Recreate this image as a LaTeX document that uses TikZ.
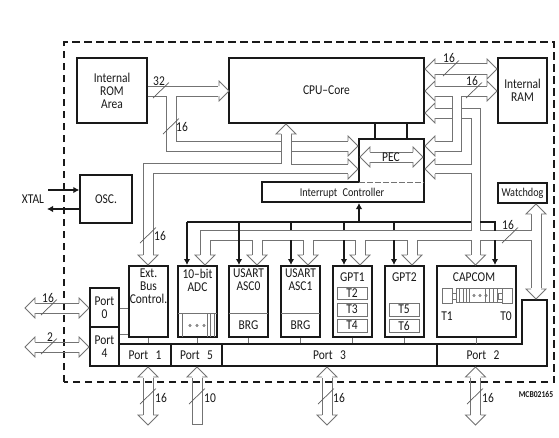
\documentclass[tikz,border=0pt]{standalone}
\usepackage{fontspec}
\setmainfont[FakeStretch=0.85]{Carlito}
\usetikzlibrary{arrows.meta}
\definecolor{bus}{gray}{0.45}
\definecolor{ink}{gray}{0.1}
\tikzset{
  boxthick/.style={draw=ink,line width=1.4pt,fill=none,inner sep=0pt,align=center,text=ink,font=\fontsize{13.5}{13}\selectfont},
  label/.style={inner sep=0pt,align=center,text=ink,font=\fontsize{13.5}{13}\selectfont},
  busline/.style={draw=bus,line width=0.8pt,line join=miter},
  busfill/.style={draw=bus,line width=0.8pt,fill=white,line join=miter},
  slash/.style={draw=bus!80!black,line width=0.7pt},
  ctrl/.style={draw=ink,line width=1.2pt,-{Latex[length=6pt,width=6.5pt]}},
  ctrlline/.style={draw=ink,line width=1.2pt},
  thinbox/.style={draw=bus,line width=0.8pt,inner sep=0pt,text=ink,font=\fontsize{13.5}{13}\selectfont},
  thinlink/.style={draw=bus,line width=0.8pt}
}
\newcommand{\bx}[6]{%
  \pgfmathsetmacro{\bxw}{#4-#2}\pgfmathsetmacro{\bxh}{#5-#3}%
  \pgfmathsetmacro{\bxx}{(#4+#2)/2}\pgfmathsetmacro{\bxy}{(#5+#3)/2}%
  \node[boxthick,minimum width=\bxw pt,minimum height=\bxh pt] (#1) at (\bxx,\bxy) {#6};}
\newcommand{\tb}[6]{%
  \pgfmathsetmacro{\bxw}{#4-#2}\pgfmathsetmacro{\bxh}{#5-#3}%
  \pgfmathsetmacro{\bxx}{(#4+#2)/2}\pgfmathsetmacro{\bxy}{(#5+#3)/2}%
  \node[thinbox,minimum width=\bxw pt,minimum height=\bxh pt] (#1) at (\bxx,\bxy) {#6};}
% open arrow heads: centre, tip
\newcommand{\hD}[2]{\draw[busfill] (#1-5,#2-10) -- (#1-10,#2-10) -- (#1,#2) -- (#1+10,#2-10) -- (#1+5,#2-10);}
\newcommand{\hU}[2]{\draw[busfill] (#1-5,#2+10) -- (#1-10,#2+10) -- (#1,#2) -- (#1+10,#2+10) -- (#1+5,#2+10);}
\newcommand{\hR}[2]{\draw[busfill] (#1-10,#2-5) -- (#1-10,#2-10) -- (#1,#2) -- (#1-10,#2+10) -- (#1-10,#2+5);}
\newcommand{\hL}[2]{\draw[busfill] (#1+10,#2-5) -- (#1+10,#2-10) -- (#1,#2) -- (#1+10,#2+10) -- (#1+10,#2+5);}
\newcommand{\wmark}[2]{\draw[slash] (#1,#2) -- ++(16,-15.5);}
\newcommand{\lb}[3]{\node[label] at (#1,#2) {#3};}
\begin{document}
\begin{tikzpicture}[x=1pt,y=-1pt]
\useasboundingbox (0,0) rectangle (559,437);
\fill[white] (0,0) rectangle (559,437);
% chip outline
\draw[ink,line width=1.5pt,dash pattern=on 7.5pt off 4.5pt] (64,382) -- (64,42) -- (554,42) -- (554,382) -- cycle;

% boxes
\bx{rom}{77}{58}{147}{123}{Internal\\ROM\\Area}
\bx{cpu}{229}{58}{424}{123}{CPU--Core}
\bx{ram}{498}{58}{547}{123}{Internal\\RAM}
\bx{osc}{80}{175}{132}{223}{OSC.}
\bx{wd}{498}{183}{547}{203}{\fontsize{12}{12}\selectfont Watchdog}
\bx{ext}{129}{266}{168}{337}{}
\bx{adc}{178}{266}{217}{337}{}
\bx{asc0}{229}{266}{268}{337}{}
\bx{asc1}{281}{266}{320}{337}{}
\bx{gpt1}{333}{266}{372}{337}{}
\bx{gpt2}{385}{266}{424}{337}{}
\bx{capcom}{437}{266}{516}{337}{}
\bx{p0}{90}{288}{119}{327}{Port\\0}
\bx{p4}{90}{327}{119}{366}{Port\\4}
\bx{p1}{119}{344}{171}{366}{Port\hspace{.35em} 1}
\bx{p5}{171}{344}{222}{366}{Port\hspace{.35em} 5}
\bx{p3}{222}{344}{437}{366}{Port\hspace{.35em} 3}
\draw[ink,line width=1.4pt] (437,344) -- (522,344) -- (522,300) -- (547,300) -- (547,366) -- (437,366) -- cycle;
\node[label] (p2) at (483,355) {Port\hspace{.35em} 2};

% box labels
\node[label,anchor=north] at (148.5,269) {Ext.\\Bus\\Control.};
\node[label,anchor=north] at (197.5,269) {10--bit\\ADC};
\node[label,anchor=north] at (248.5,269) {USART\\ASC0};
\node[label,anchor=north] at (300.5,269) {USART\\ASC1};
\lb{352.5}{277}{GPT1}
\lb{404.5}{277}{GPT2}
\lb{474}{277}{CAPCOM}
\lb{248.5}{325}{BRG}
\lb{300.5}{325}{BRG}

% PEC / interrupt controller
\coordinate (pecA) at (359,139);
\coordinate (pecB) at (424,139);
\coordinate (pecC) at (424,202);
\coordinate (pecD) at (262,202);
\coordinate (pecE) at (262,182);
\coordinate (pecF) at (359,182);
\draw[ink,line width=1.4pt] (pecA) -- (pecB) -- (pecC) -- (pecD) -- (pecE) -- (pecF) -- cycle;
\draw[bus,line width=.8pt,dash pattern=on 6pt off 2pt] (pecF) -- (424,182);
\node[label,font=\fontsize{12}{13}\selectfont] (irq) at (342,193) {Interrupt\hspace{.25em} Controller};
\draw[ink,line width=1.4pt] (375,123) -- (375,139);
\draw[ink,line width=1.4pt] (407,123) -- (407,139);
\draw[busline] (370,152) -- (413,152);
\draw[busline] (370,162) -- (413,162);
\hL{360}{157}
\hR{423}{157}
\node[label,fill=white,inner xsep=1pt,inner ysep=0pt] (pec) at (391,157) {PEC};

% inner sub-boxes
\draw[thinlink] (178,313) -- (217,313);
\foreach \q in {182,207,210,214} \draw[thinlink] (\q,313) -- (\q,337);
\foreach \q in {190,197,204} \draw[thinlink] (\q,325.5) circle (1.1);
\draw[thinlink] (229,313) -- (268,313);
\draw[thinlink] (281,313) -- (320,313);
\tb{t2}{337}{287}{367}{299}{T2}
\tb{t3}{337}{303}{367}{316}{T3}
\tb{t4}{337}{319}{367}{332}{T4}
\tb{t5}{389}{303}{419}{316}{T5}
\tb{t6}{389}{319}{419}{332}{T6}
% capcom inner
\draw[thinlink] (442,288) rectangle (452,303);
\draw[thinlink] (452,293) rectangle (456,299);
\draw[thinlink] (456,288) rectangle (502,302);
\draw[thinlink] (498,293) rectangle (502,299);
\draw[thinlink] (502,288) rectangle (512,303);
\foreach \q in {459,463,466,469,485,489,493,497} \draw[thinlink] (\q,288) -- (\q,302);
\foreach \q in {472,478,484} \draw[thinlink] (\q+2,295.5) circle (1.1);
\lb{447}{316}{T1}
\lb{506}{316}{T0}

% thin links to ports
\draw[thinlink] (p0.east |- 0,308) -- (ext.west |- 0,308);
\draw[thinlink] (p4.east |- 0,334) -- (ext.west |- 0,334);
\foreach \a/\b in {ext/p1,adc/p5} \draw[thinlink] (\a.south) -- (\a.south |- \b.north);
\foreach \a in {asc0,asc1,gpt1,gpt2} \draw[thinlink] (\a.south) -- (\a.south |- p3.north);
\draw[thinlink] (capcom.south) -- (capcom.south |- 0,344);

% XTAL
\node[label] (xtal) at (33,199) {XTAL};
\coordinate (xin) at (48,190);
\coordinate (xout) at (47,209);
\draw[ctrl] (xin) -- (xin -| osc.west);
\draw[ctrl] (xout -| osc.west) -- (xout);

% ROM buses
\draw[busline] (rom.east |- 0,86) -- (218,86);
\draw[busline] (rom.east |- 0,96) -- (166,96) -- (166,151) -- (281,151);
\draw[busline] (218,96) -- (176,96) -- (176,141) -- (281,141);
\hR{229}{91}
\draw[busline] (143,255) -- (143,163) -- (281,163) -- (281,134);
\draw[busline] (291,134) -- (291,164) -- (348,164);
\draw[busline] (153,255) -- (153,173) -- (348,173);
\draw[busline] (291,141) -- (348,141);
\draw[busline] (291,151) -- (348,151);
\hU{286}{124}
\hR{358}{146}
\hR{358}{169}
\hD{148}{265}

% RAM / right buses
\draw[busline] (435,63) -- (487,63);
\draw[busline] (435,74) -- (487,74);
\hL{425}{69}\hR{497}{69}
\draw[busline] (435,86) -- (487,86);
\draw[busline] (435,96) -- (452,96) -- (452,141) -- (435,141);
\draw[busline] (487,96) -- (461,96) -- (461,151) -- (435,151);
\hL{425}{91}\hR{497}{91}
\draw[busline] (435,108.5) -- (452,108.5);
\draw[busline] (435,118) -- (452,118);
\draw[busline] (461,108.5) -- (480,108.5) -- (480,230) -- (531,230) -- (531,214);
\draw[busline] (461,118) -- (471,118) -- (471,164) -- (435,164);
\draw[busline] (435,173.5) -- (471,173.5) -- (471,230) -- (200,230) -- (200,255);
\hL{425}{113}
\hL{425}{146}
\hL{425}{169}
% lower distribution bus
\draw[busline] (210,255) -- (210,240) -- (252,240) -- (252,255);
\draw[busline] (262,255) -- (262,240) -- (303,240) -- (303,255);
\draw[busline] (313,255) -- (313,240) -- (355,240) -- (355,255);
\draw[busline] (365,255) -- (365,240) -- (407,240) -- (407,255);
\draw[busline] (417,255) -- (417,240) -- (471,240) -- (471,255);
\draw[busline] (480,255) -- (480,240) -- (531,240) -- (531,288);
\draw[busline] (541,214) -- (541,288);
\foreach \q in {205,257,308,360,412,475.5} {\hD{\q}{265}}
\hU{536}{204}
\hD{536}{299}

% control bus
\draw[ctrlline] (187,222) -- (471,222);
\draw[ctrlline] (480,222) -- (495,222) -- (495,231);
\draw[ctrl] (187,222) -- (187,265);
\draw[ctrl] (239,222) -- (239,265);
\draw[ctrlline] (291,222) -- (291,230);
\draw[ctrl] (291,240) -- (291,265);
\draw[ctrlline] (344,222) -- (344,230);
\draw[ctrl] (344,240) -- (344,265);
\draw[ctrlline] (394,222) -- (394,230);
\draw[ctrl] (394,240) -- (394,265);
\draw[ctrl] (495,240) -- (495,265);
\draw[ctrl] (359,222) -- (359,203);

% external port arrows
\foreach \c in {148,327,475.5} {
  \draw[busline] (\c-5,378) -- (\c-5,415);
  \draw[busline] (\c+5,378) -- (\c+5,415);
  \hU{\c}{367}
  \hD{\c}{425}
}
\draw[busline] (192,378) -- (192,424) -- (202,424) -- (202,378);
\hU{197}{367}
\foreach \c in {308,347} {
  \draw[busline] (35,\c-5) -- (79,\c-5);
  \draw[busline] (35,\c+5) -- (79,\c+5);
  \hL{25}{\c}
  \hR{89}{\c}
}

% width marks
\wmark{153}{98}\lb{159}{81}{32}
\wmark{163}{134}\lb{182}{127}{16}
\wmark{140}{243}\lb{160}{236}{16}
\wmark{443}{76}\lb{449}{58}{16}
\wmark{466}{98}\lb{472}{81}{16}
\wmark{502}{243}\lb{508}{225}{16}
\wmark{41}{315}\lb{48}{298}{16}
\wmark{41}{354}\lb{50}{337}{2}
\wmark{140}{404}\lb{161}{398}{16}
\wmark{189}{404}\lb{210}{398}{10}
\wmark{318}{404}\lb{339}{398}{16}
\wmark{467}{404}\lb{488}{398}{16}

\node[inner sep=0pt,text=ink,font=\fontsize{9}{8}\selectfont\bfseries] (code) at (536,394) {MCB02165};
\end{tikzpicture}
\end{document}
